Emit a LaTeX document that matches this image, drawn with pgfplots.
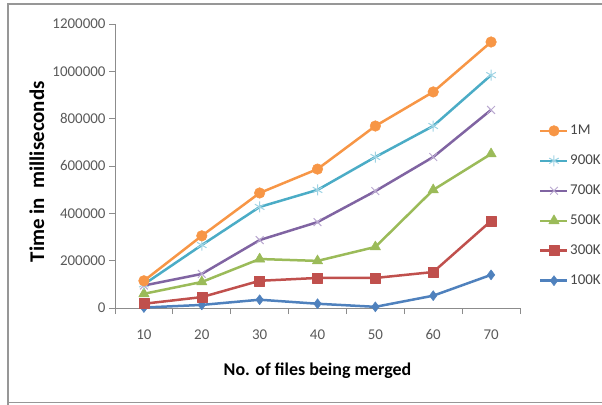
\documentclass[border=0pt]{standalone}
\usepackage{pgfplots}
\pgfplotsset{compat=1.18}
\usepackage{fontspec}
\setmainfont{Carlito}
\definecolor{cA}{HTML}{F79646}
\definecolor{cB}{HTML}{4BACC6}
\definecolor{cBm}{HTML}{9ED3E3}
\definecolor{cC}{HTML}{8064A2}
\definecolor{cCm}{HTML}{B9A8D0}
\definecolor{cD}{HTML}{9BBB59}
\definecolor{cE}{HTML}{C0504D}
\definecolor{cF}{HTML}{4F81BD}
\definecolor{axgray}{HTML}{8C8C8C}
\definecolor{tickgray}{HTML}{595959}
\begin{document}
\begin{tikzpicture}[x=1bp,y=1bp]
\useasboundingbox (0,0) rectangle (602,404);
\draw[color=axgray!90,line width=1.3bp] (8,-5) -- (8,400) -- (620,400);
\draw[color=axgray!90,line width=1bp] (8,2) -- (620,2);
\begin{axis}[
  scale only axis,
  width=405bp, height=284bp,
  at={(115bp,96bp)}, anchor=south west,
  xmin=5, xmax=75, ymin=0, ymax=1200000,
  axis x line*=bottom, axis y line*=left,
  axis line style={color=axgray, line width=0.9bp},
  xtick={10,20,...,70},
  minor xtick={5,15,...,75},
  major x tick style={draw=none},
  minor x tick style={color=axgray, line width=0.9bp},
  minor tick length=6bp,
  ytick={0,200000,...,1200000},
  major y tick style={color=axgray, line width=0.9bp},
  major tick length=6bp,
  tick align=outside,
  scaled y ticks=false,
  yticklabel style={/pgf/number format/fixed, /pgf/number format/1000 sep={}, font=\fontsize{15}{16}\selectfont, color=tickgray},
  xticklabel style={font=\fontsize{15}{16}\selectfont, color=tickgray, yshift=-12bp},
  /pgf/number format/assume math mode=true,
  ylabel={\textbf{Time in\ \ milliseconds}},
  ylabel style={font=\fontsize{21}{23}\selectfont, at={(axis description cs:-0.193,0.48)}, anchor=center},
  xlabel={\textbf{No. of files being merged}},
  xlabel style={font=\fontsize{18}{20}\selectfont, at={(axis description cs:0.5,-0.222)}, anchor=center},
  clip=false,
  reverse legend,
  legend style={draw=none, fill=none, at={(axis description cs:1.047,0.651)}, anchor=north west,
    font=\fontsize{15}{16}\selectfont, text=tickgray!80!black, row sep=14.8bp, inner sep=0pt,
    nodes={inner xsep=1.5bp}},
  legend cell align=left,
  legend image code/.code={\draw[mark repeat=2,mark phase=2] plot coordinates {(0bp,0bp) (13.5bp,0bp) (27bp,0bp)};},
  every axis plot/.append style={line width=2.5bp, line join=round},
]
\addplot[color=cF, mark=diamond*, mark size=5bp, mark options={fill=cF, line width=0.5bp}] coordinates {
(10,2000) (20,13000) (30,35000) (40,18000) (50,5000) (60,52000) (70,140000)};
\addlegendentry{100K}
\addplot[color=cE, mark=square*, mark size=5bp, mark options={fill=cE, line width=0.5bp}] coordinates {
(10,18000) (20,46000) (30,115000) (40,127000) (50,127000) (60,152000) (70,368000)};
\addlegendentry{300K}
\addplot[color=cD, mark=triangle*, mark size=6bp, mark options={fill=cD, line width=0.5bp}] coordinates {
(10,60000) (20,110000) (30,207000) (40,199000) (50,258000) (60,499000) (70,651000)};
\addlegendentry{500K}
\addplot[color=cC, mark=x, mark size=5.5bp, mark options={color=cCm, line width=1bp}] coordinates {
(10,95000) (20,144000) (30,287000) (40,363000) (50,494000) (60,638000) (70,837000)};
\addlegendentry{700K}
\addplot[color=cB, mark=asterisk, mark size=5.5bp, mark options={color=cBm, line width=1bp}] coordinates {
(10,100000) (20,266000) (30,427000) (40,499000) (50,638000) (60,769000) (70,984000)};
\addlegendentry{900K}
\addplot[color=cA, mark=*, mark size=5.3bp, mark options={fill=cA, line width=0.5bp}] coordinates {
(10,115000) (20,305000) (30,486000) (40,587000) (50,769000) (60,913000) (70,1124000)};
\addlegendentry{1M}
\end{axis}
\end{tikzpicture}
\end{document}
